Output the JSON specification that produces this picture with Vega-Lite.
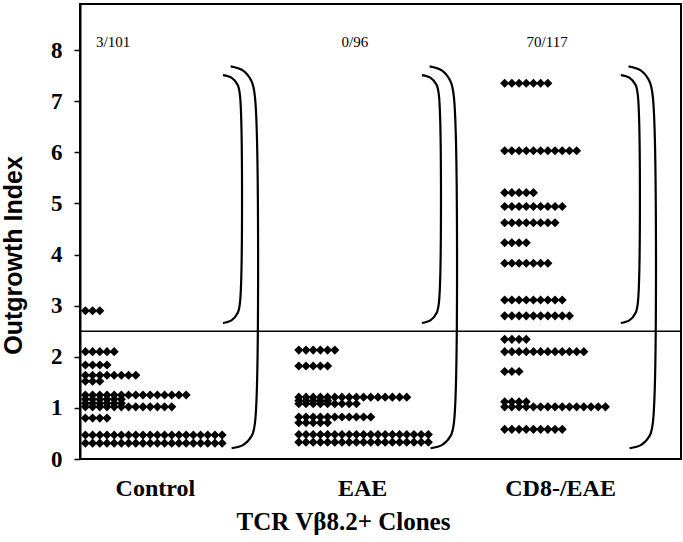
{
  "$schema": "https://vega.github.io/schema/vega-lite/v6.json",
  "width": 601,
  "height": 455,
  "autosize": "none",
  "padding": {"left": 80, "top": 4, "right": 2, "bottom": 83},
  "background": "white",
  "config": {"view": {"stroke": "black", "strokeWidth": 2}},
  "datasets": {
    "clones": [
      {"g":"Control","x":0.75,"y":2.9},{"g":"Control","x":1.75,"y":2.9},{"g":"Control","x":2.75,"y":2.9},
      {"g":"Control","x":0.75,"y":2.1},{"g":"Control","x":1.75,"y":2.1},{"g":"Control","x":2.75,"y":2.1},{"g":"Control","x":3.75,"y":2.1},{"g":"Control","x":4.75,"y":2.1},
      {"g":"Control","x":0.75,"y":1.84},{"g":"Control","x":1.75,"y":1.84},{"g":"Control","x":2.75,"y":1.84},{"g":"Control","x":3.75,"y":1.84},
      {"g":"Control","x":0.75,"y":1.64},{"g":"Control","x":1.75,"y":1.64},{"g":"Control","x":2.75,"y":1.64},{"g":"Control","x":3.75,"y":1.64},{"g":"Control","x":4.75,"y":1.64},{"g":"Control","x":5.75,"y":1.64},{"g":"Control","x":6.75,"y":1.64},{"g":"Control","x":7.75,"y":1.64},
      {"g":"Control","x":0.75,"y":1.52},{"g":"Control","x":1.75,"y":1.52},{"g":"Control","x":2.75,"y":1.52},
      {"g":"Control","x":0.75,"y":1.25},{"g":"Control","x":1.75,"y":1.25},{"g":"Control","x":2.75,"y":1.25},{"g":"Control","x":3.75,"y":1.25},{"g":"Control","x":4.75,"y":1.25},{"g":"Control","x":5.75,"y":1.25},{"g":"Control","x":6.75,"y":1.25},{"g":"Control","x":7.75,"y":1.25},{"g":"Control","x":8.75,"y":1.25},{"g":"Control","x":9.75,"y":1.25},{"g":"Control","x":10.75,"y":1.25},{"g":"Control","x":11.75,"y":1.25},{"g":"Control","x":12.75,"y":1.25},{"g":"Control","x":13.75,"y":1.25},{"g":"Control","x":14.75,"y":1.25},
      {"g":"Control","x":0.75,"y":1.17},{"g":"Control","x":1.75,"y":1.17},{"g":"Control","x":2.75,"y":1.17},{"g":"Control","x":3.75,"y":1.17},{"g":"Control","x":4.75,"y":1.17},{"g":"Control","x":5.75,"y":1.17},
      {"g":"Control","x":0.75,"y":1.09},{"g":"Control","x":1.75,"y":1.09},{"g":"Control","x":2.75,"y":1.09},{"g":"Control","x":3.75,"y":1.09},{"g":"Control","x":4.75,"y":1.09},{"g":"Control","x":5.75,"y":1.09},
      {"g":"Control","x":0.75,"y":1.02},{"g":"Control","x":1.75,"y":1.02},{"g":"Control","x":2.75,"y":1.02},{"g":"Control","x":3.75,"y":1.02},{"g":"Control","x":4.75,"y":1.02},{"g":"Control","x":5.75,"y":1.02},{"g":"Control","x":6.75,"y":1.02},{"g":"Control","x":7.75,"y":1.02},{"g":"Control","x":8.75,"y":1.02},{"g":"Control","x":9.75,"y":1.02},{"g":"Control","x":10.75,"y":1.02},{"g":"Control","x":11.75,"y":1.02},{"g":"Control","x":12.75,"y":1.02},
      {"g":"Control","x":0.75,"y":0.8},{"g":"Control","x":1.75,"y":0.8},{"g":"Control","x":2.75,"y":0.8},{"g":"Control","x":3.75,"y":0.8},
      {"g":"Control","x":0.75,"y":0.47},{"g":"Control","x":1.75,"y":0.47},{"g":"Control","x":2.75,"y":0.47},{"g":"Control","x":3.75,"y":0.47},{"g":"Control","x":4.75,"y":0.47},{"g":"Control","x":5.75,"y":0.47},{"g":"Control","x":6.75,"y":0.47},{"g":"Control","x":7.75,"y":0.47},{"g":"Control","x":8.75,"y":0.47},{"g":"Control","x":9.75,"y":0.47},{"g":"Control","x":10.75,"y":0.47},{"g":"Control","x":11.75,"y":0.47},{"g":"Control","x":12.75,"y":0.47},{"g":"Control","x":13.75,"y":0.47},{"g":"Control","x":14.75,"y":0.47},{"g":"Control","x":15.75,"y":0.47},{"g":"Control","x":16.75,"y":0.47},{"g":"Control","x":17.75,"y":0.47},{"g":"Control","x":18.75,"y":0.47},{"g":"Control","x":19.75,"y":0.47},
      {"g":"Control","x":0.75,"y":0.31},{"g":"Control","x":1.75,"y":0.31},{"g":"Control","x":2.75,"y":0.31},{"g":"Control","x":3.75,"y":0.31},{"g":"Control","x":4.75,"y":0.31},{"g":"Control","x":5.75,"y":0.31},{"g":"Control","x":6.75,"y":0.31},{"g":"Control","x":7.75,"y":0.31},{"g":"Control","x":8.75,"y":0.31},{"g":"Control","x":9.75,"y":0.31},{"g":"Control","x":10.75,"y":0.31},{"g":"Control","x":11.75,"y":0.31},{"g":"Control","x":12.75,"y":0.31},{"g":"Control","x":13.75,"y":0.31},{"g":"Control","x":14.75,"y":0.31},{"g":"Control","x":15.75,"y":0.31},{"g":"Control","x":16.75,"y":0.31},{"g":"Control","x":17.75,"y":0.31},{"g":"Control","x":18.75,"y":0.31},{"g":"Control","x":19.75,"y":0.31},

      {"g":"EAE","x":30.4,"y":2.13},{"g":"EAE","x":31.4,"y":2.13},{"g":"EAE","x":32.4,"y":2.13},{"g":"EAE","x":33.4,"y":2.13},{"g":"EAE","x":34.4,"y":2.13},{"g":"EAE","x":35.4,"y":2.13},
      {"g":"EAE","x":30.4,"y":1.82},{"g":"EAE","x":31.4,"y":1.82},{"g":"EAE","x":32.4,"y":1.82},{"g":"EAE","x":33.4,"y":1.82},{"g":"EAE","x":34.4,"y":1.82},
      {"g":"EAE","x":30.4,"y":1.21},{"g":"EAE","x":31.4,"y":1.21},{"g":"EAE","x":32.4,"y":1.21},{"g":"EAE","x":33.4,"y":1.21},{"g":"EAE","x":34.4,"y":1.21},{"g":"EAE","x":35.4,"y":1.21},{"g":"EAE","x":36.4,"y":1.21},{"g":"EAE","x":37.4,"y":1.21},{"g":"EAE","x":38.4,"y":1.21},{"g":"EAE","x":39.4,"y":1.21},{"g":"EAE","x":40.4,"y":1.21},{"g":"EAE","x":41.4,"y":1.21},{"g":"EAE","x":42.4,"y":1.21},{"g":"EAE","x":43.4,"y":1.21},{"g":"EAE","x":44.4,"y":1.21},{"g":"EAE","x":45.4,"y":1.21},
      {"g":"EAE","x":30.4,"y":1.14},{"g":"EAE","x":31.4,"y":1.14},{"g":"EAE","x":32.4,"y":1.14},{"g":"EAE","x":33.4,"y":1.14},{"g":"EAE","x":34.4,"y":1.14},
      {"g":"EAE","x":30.4,"y":1.08},{"g":"EAE","x":31.4,"y":1.08},{"g":"EAE","x":32.4,"y":1.08},{"g":"EAE","x":33.4,"y":1.08},{"g":"EAE","x":34.4,"y":1.08},{"g":"EAE","x":35.4,"y":1.08},{"g":"EAE","x":36.4,"y":1.08},{"g":"EAE","x":37.4,"y":1.08},{"g":"EAE","x":38.4,"y":1.08},
      {"g":"EAE","x":30.4,"y":0.82},{"g":"EAE","x":31.4,"y":0.82},{"g":"EAE","x":32.4,"y":0.82},{"g":"EAE","x":33.4,"y":0.82},{"g":"EAE","x":34.4,"y":0.82},{"g":"EAE","x":35.4,"y":0.82},{"g":"EAE","x":36.4,"y":0.82},{"g":"EAE","x":37.4,"y":0.82},{"g":"EAE","x":38.4,"y":0.82},{"g":"EAE","x":39.4,"y":0.82},{"g":"EAE","x":40.4,"y":0.82},
      {"g":"EAE","x":30.4,"y":0.71},{"g":"EAE","x":31.4,"y":0.71},{"g":"EAE","x":32.4,"y":0.71},{"g":"EAE","x":33.4,"y":0.71},{"g":"EAE","x":34.4,"y":0.71},
      {"g":"EAE","x":30.4,"y":0.48},{"g":"EAE","x":31.4,"y":0.48},{"g":"EAE","x":32.4,"y":0.48},{"g":"EAE","x":33.4,"y":0.48},{"g":"EAE","x":34.4,"y":0.48},{"g":"EAE","x":35.4,"y":0.48},{"g":"EAE","x":36.4,"y":0.48},{"g":"EAE","x":37.4,"y":0.48},{"g":"EAE","x":38.4,"y":0.48},{"g":"EAE","x":39.4,"y":0.48},{"g":"EAE","x":40.4,"y":0.48},{"g":"EAE","x":41.4,"y":0.48},{"g":"EAE","x":42.4,"y":0.48},{"g":"EAE","x":43.4,"y":0.48},{"g":"EAE","x":44.4,"y":0.48},{"g":"EAE","x":45.4,"y":0.48},{"g":"EAE","x":46.4,"y":0.48},{"g":"EAE","x":47.4,"y":0.48},{"g":"EAE","x":48.4,"y":0.48},
      {"g":"EAE","x":30.4,"y":0.33},{"g":"EAE","x":31.4,"y":0.33},{"g":"EAE","x":32.4,"y":0.33},{"g":"EAE","x":33.4,"y":0.33},{"g":"EAE","x":34.4,"y":0.33},{"g":"EAE","x":35.4,"y":0.33},{"g":"EAE","x":36.4,"y":0.33},{"g":"EAE","x":37.4,"y":0.33},{"g":"EAE","x":38.4,"y":0.33},{"g":"EAE","x":39.4,"y":0.33},{"g":"EAE","x":40.4,"y":0.33},{"g":"EAE","x":41.4,"y":0.33},{"g":"EAE","x":42.4,"y":0.33},{"g":"EAE","x":43.4,"y":0.33},{"g":"EAE","x":44.4,"y":0.33},{"g":"EAE","x":45.4,"y":0.33},{"g":"EAE","x":46.4,"y":0.33},{"g":"EAE","x":47.4,"y":0.33},{"g":"EAE","x":48.4,"y":0.33},

      {"g":"CD8-/EAE","x":59,"y":7.35},{"g":"CD8-/EAE","x":60,"y":7.35},{"g":"CD8-/EAE","x":61,"y":7.35},{"g":"CD8-/EAE","x":62,"y":7.35},{"g":"CD8-/EAE","x":63,"y":7.35},{"g":"CD8-/EAE","x":64,"y":7.35},{"g":"CD8-/EAE","x":65,"y":7.35},
      {"g":"CD8-/EAE","x":59,"y":6.03},{"g":"CD8-/EAE","x":60,"y":6.03},{"g":"CD8-/EAE","x":61,"y":6.03},{"g":"CD8-/EAE","x":62,"y":6.03},{"g":"CD8-/EAE","x":63,"y":6.03},{"g":"CD8-/EAE","x":64,"y":6.03},{"g":"CD8-/EAE","x":65,"y":6.03},{"g":"CD8-/EAE","x":66,"y":6.03},{"g":"CD8-/EAE","x":67,"y":6.03},{"g":"CD8-/EAE","x":68,"y":6.03},{"g":"CD8-/EAE","x":69,"y":6.03},
      {"g":"CD8-/EAE","x":59,"y":5.21},{"g":"CD8-/EAE","x":60,"y":5.21},{"g":"CD8-/EAE","x":61,"y":5.21},{"g":"CD8-/EAE","x":62,"y":5.21},{"g":"CD8-/EAE","x":63,"y":5.21},
      {"g":"CD8-/EAE","x":59,"y":4.94},{"g":"CD8-/EAE","x":60,"y":4.94},{"g":"CD8-/EAE","x":61,"y":4.94},{"g":"CD8-/EAE","x":62,"y":4.94},{"g":"CD8-/EAE","x":63,"y":4.94},{"g":"CD8-/EAE","x":64,"y":4.94},{"g":"CD8-/EAE","x":65,"y":4.94},{"g":"CD8-/EAE","x":66,"y":4.94},{"g":"CD8-/EAE","x":67,"y":4.94},
      {"g":"CD8-/EAE","x":59,"y":4.62},{"g":"CD8-/EAE","x":60,"y":4.62},{"g":"CD8-/EAE","x":61,"y":4.62},{"g":"CD8-/EAE","x":62,"y":4.62},{"g":"CD8-/EAE","x":63,"y":4.62},{"g":"CD8-/EAE","x":64,"y":4.62},{"g":"CD8-/EAE","x":65,"y":4.62},{"g":"CD8-/EAE","x":66,"y":4.62},
      {"g":"CD8-/EAE","x":59,"y":4.23},{"g":"CD8-/EAE","x":60,"y":4.23},{"g":"CD8-/EAE","x":61,"y":4.23},{"g":"CD8-/EAE","x":62,"y":4.23},
      {"g":"CD8-/EAE","x":59,"y":3.83},{"g":"CD8-/EAE","x":60,"y":3.83},{"g":"CD8-/EAE","x":61,"y":3.83},{"g":"CD8-/EAE","x":62,"y":3.83},{"g":"CD8-/EAE","x":63,"y":3.83},{"g":"CD8-/EAE","x":64,"y":3.83},{"g":"CD8-/EAE","x":65,"y":3.83},
      {"g":"CD8-/EAE","x":59,"y":3.11},{"g":"CD8-/EAE","x":60,"y":3.11},{"g":"CD8-/EAE","x":61,"y":3.11},{"g":"CD8-/EAE","x":62,"y":3.11},{"g":"CD8-/EAE","x":63,"y":3.11},{"g":"CD8-/EAE","x":64,"y":3.11},{"g":"CD8-/EAE","x":65,"y":3.11},{"g":"CD8-/EAE","x":66,"y":3.11},{"g":"CD8-/EAE","x":67,"y":3.11},
      {"g":"CD8-/EAE","x":59,"y":2.8},{"g":"CD8-/EAE","x":60,"y":2.8},{"g":"CD8-/EAE","x":61,"y":2.8},{"g":"CD8-/EAE","x":62,"y":2.8},{"g":"CD8-/EAE","x":63,"y":2.8},{"g":"CD8-/EAE","x":64,"y":2.8},{"g":"CD8-/EAE","x":65,"y":2.8},{"g":"CD8-/EAE","x":66,"y":2.8},{"g":"CD8-/EAE","x":67,"y":2.8},{"g":"CD8-/EAE","x":68,"y":2.8},
      {"g":"CD8-/EAE","x":59,"y":2.34},{"g":"CD8-/EAE","x":60,"y":2.34},{"g":"CD8-/EAE","x":61,"y":2.34},{"g":"CD8-/EAE","x":62,"y":2.34},
      {"g":"CD8-/EAE","x":59,"y":2.1},{"g":"CD8-/EAE","x":60,"y":2.1},{"g":"CD8-/EAE","x":61,"y":2.1},{"g":"CD8-/EAE","x":62,"y":2.1},{"g":"CD8-/EAE","x":63,"y":2.1},{"g":"CD8-/EAE","x":64,"y":2.1},{"g":"CD8-/EAE","x":65,"y":2.1},{"g":"CD8-/EAE","x":66,"y":2.1},{"g":"CD8-/EAE","x":67,"y":2.1},{"g":"CD8-/EAE","x":68,"y":2.1},{"g":"CD8-/EAE","x":69,"y":2.1},{"g":"CD8-/EAE","x":70,"y":2.1},
      {"g":"CD8-/EAE","x":59,"y":1.71},{"g":"CD8-/EAE","x":60,"y":1.71},{"g":"CD8-/EAE","x":61,"y":1.71},
      {"g":"CD8-/EAE","x":59,"y":1.12},{"g":"CD8-/EAE","x":60,"y":1.12},{"g":"CD8-/EAE","x":61,"y":1.12},{"g":"CD8-/EAE","x":62,"y":1.12},
      {"g":"CD8-/EAE","x":59,"y":1.02},{"g":"CD8-/EAE","x":60,"y":1.02},{"g":"CD8-/EAE","x":61,"y":1.02},{"g":"CD8-/EAE","x":62,"y":1.02},{"g":"CD8-/EAE","x":63,"y":1.02},{"g":"CD8-/EAE","x":64,"y":1.02},{"g":"CD8-/EAE","x":65,"y":1.02},{"g":"CD8-/EAE","x":66,"y":1.02},{"g":"CD8-/EAE","x":67,"y":1.02},{"g":"CD8-/EAE","x":68,"y":1.02},{"g":"CD8-/EAE","x":69,"y":1.02},{"g":"CD8-/EAE","x":70,"y":1.02},{"g":"CD8-/EAE","x":71,"y":1.02},{"g":"CD8-/EAE","x":72,"y":1.02},{"g":"CD8-/EAE","x":73,"y":1.02},
      {"g":"CD8-/EAE","x":59,"y":0.58},{"g":"CD8-/EAE","x":60,"y":0.58},{"g":"CD8-/EAE","x":61,"y":0.58},{"g":"CD8-/EAE","x":62,"y":0.58},{"g":"CD8-/EAE","x":63,"y":0.58},{"g":"CD8-/EAE","x":64,"y":0.58},{"g":"CD8-/EAE","x":65,"y":0.58},{"g":"CD8-/EAE","x":66,"y":0.58},{"g":"CD8-/EAE","x":67,"y":0.58}
    ],
    "brackets": [
      {"b":"C1","k":0,"x":19.86,"y":7.51},{"b":"C1","k":1,"x":21.04,"y":7.46},{"b":"C1","k":2,"x":21.9,"y":7.32},{"b":"C1","k":3,"x":22.22,"y":7.12},{"b":"C1","k":4,"x":22.22,"y":3.05},{"b":"C1","k":5,"x":21.9,"y":2.855},{"b":"C1","k":6,"x":21.04,"y":2.71},{"b":"C1","k":7,"x":19.86,"y":2.66},
      {"b":"C2","k":0,"x":20.93,"y":7.68},{"b":"C2","k":1,"x":22.62,"y":7.6},{"b":"C2","k":2,"x":23.86,"y":7.38},{"b":"C2","k":3,"x":24.31,"y":7.08},{"b":"C2","k":4,"x":24.31,"y":0.705},{"b":"C2","k":5,"x":23.88,"y":0.458},{"b":"C2","k":6,"x":22.69,"y":0.276},{"b":"C2","k":7,"x":21.07,"y":0.21},
      {"b":"E1","k":0,"x":47.5,"y":7.51},{"b":"E1","k":1,"x":48.68,"y":7.46},{"b":"E1","k":2,"x":49.54,"y":7.32},{"b":"E1","k":3,"x":49.86,"y":7.12},{"b":"E1","k":4,"x":49.86,"y":3.05},{"b":"E1","k":5,"x":49.54,"y":2.855},{"b":"E1","k":6,"x":48.68,"y":2.71},{"b":"E1","k":7,"x":47.5,"y":2.66},
      {"b":"E2","k":0,"x":48.57,"y":7.68},{"b":"E2","k":1,"x":50.26,"y":7.6},{"b":"E2","k":2,"x":51.5,"y":7.38},{"b":"E2","k":3,"x":51.95,"y":7.08},{"b":"E2","k":4,"x":51.95,"y":0.705},{"b":"E2","k":5,"x":51.52,"y":0.458},{"b":"E2","k":6,"x":50.33,"y":0.276},{"b":"E2","k":7,"x":48.71,"y":0.21},
      {"b":"D1","k":0,"x":75.14,"y":7.51},{"b":"D1","k":1,"x":76.32,"y":7.46},{"b":"D1","k":2,"x":77.18,"y":7.32},{"b":"D1","k":3,"x":77.5,"y":7.12},{"b":"D1","k":4,"x":77.5,"y":3.05},{"b":"D1","k":5,"x":77.18,"y":2.855},{"b":"D1","k":6,"x":76.32,"y":2.71},{"b":"D1","k":7,"x":75.14,"y":2.66},
      {"b":"D2","k":0,"x":76.21,"y":7.68},{"b":"D2","k":1,"x":77.9,"y":7.6},{"b":"D2","k":2,"x":79.14,"y":7.38},{"b":"D2","k":3,"x":79.59,"y":7.08},{"b":"D2","k":4,"x":79.59,"y":0.705},{"b":"D2","k":5,"x":79.16,"y":0.458},{"b":"D2","k":6,"x":77.97,"y":0.276},{"b":"D2","k":7,"x":76.35,"y":0.21}
    ],
    "counts": [
      {"t":"3/101","x":4.6,"y":8.16},
      {"t":"0/96","x":38.2,"y":8.16},
      {"t":"70/117","x":64.9,"y":8.16}
    ],
    "cut": [{"y": 2.5}]
  },
  "layer": [
    {
      "data": {"name": "clones"},
      "mark": {"type": "point", "shape": "diamond", "filled": true, "color": "black", "opacity": 1, "size": 82},
      "encoding": {
        "x": {
          "field": "x", "type": "quantitative",
          "scale": {"domain": [0, 83.5], "nice": false, "zero": false},
          "axis": {
            "values": [10.4, 39.2, 66.7],
            "labelExpr": "datum.value < 20 ? 'Control' : datum.value < 50 ? 'EAE' : 'CD8-/EAE'",
            "ticks": false, "grid": false, "domain": false,
            "labelFont": "Liberation Serif", "labelFontWeight": "bold", "labelFontSize": 24, "labelColor": "black",
            "labelPadding": 17, "labelFlush": false, "labelOverlap": false,
            "title": "TCR Vβ8.2+ Clones",
            "titleFont": "Liberation Serif", "titleFontWeight": "bold", "titleFontSize": 25, "titleColor": "black",
            "titlePadding": 9, "titleX": 263
          }
        },
        "y": {
          "field": "y", "type": "quantitative",
          "scale": {"domain": [0, 8.9], "nice": false, "zero": true},
          "axis": {
            "values": [0, 1, 2, 3, 4, 5, 6, 7, 8],
            "grid": false,
            "tickSize": 6, "tickColor": "black", "tickWidth": 1.5,
            "domainColor": "black", "domainWidth": 2,
            "labelFont": "Liberation Serif", "labelFontWeight": "bold", "labelFontSize": 23, "labelColor": "black",
            "labelPadding": 12,
            "title": "Outgrowth Index",
            "titleFont": "Liberation Sans", "titleFontWeight": "bold", "titleFontSize": 25, "titleColor": "black",
            "titleX": -54, "titleY": 251
          }
        }
      }
    },
    {
      "data": {"name": "cut"},
      "mark": {"type": "rule", "color": "black", "strokeWidth": 1.5},
      "encoding": {"y": {"field": "y", "type": "quantitative"}}
    },
    {
      "data": {"name": "brackets"},
      "mark": {"type": "line", "interpolate": "catmull-rom", "color": "black", "strokeWidth": 2.2},
      "encoding": {
        "x": {"field": "x", "type": "quantitative"},
        "y": {"field": "y", "type": "quantitative"},
        "detail": {"field": "b"},
        "order": {"field": "k"}
      }
    },
    {
      "data": {"name": "counts"},
      "mark": {"type": "text", "font": "Liberation Serif", "fontSize": 15, "color": "black", "align": "center", "baseline": "middle"},
      "encoding": {
        "x": {"field": "x", "type": "quantitative"},
        "y": {"field": "y", "type": "quantitative"},
        "text": {"field": "t"}
      }
    }
  ]
}
